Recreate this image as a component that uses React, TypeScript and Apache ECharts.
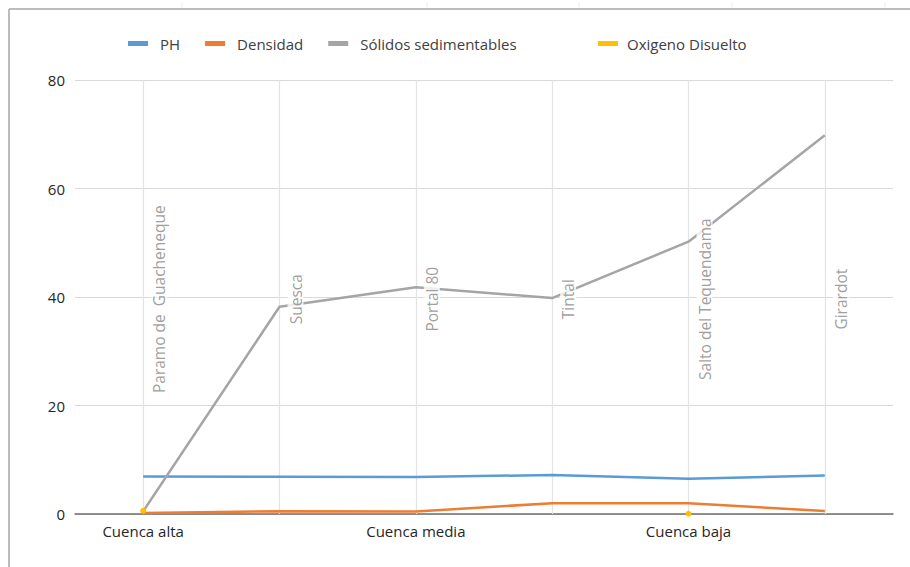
import React, { useEffect, useRef } from "react";
import * as echarts from "echarts";

const stations = ["Paramo de  Guacheneque", "Suesca", "Portal 80", "Tintal", "Salto del Tequendama", "Girardot"];
const basinLabels = ["Cuenca alta", "", "Cuenca media", "", "Cuenca baja", ""];
const ph = [6.9, 6.85, 6.8, 7.2, 6.5, 7.1];
const densidad = [0.2, 0.5, 0.45, 2.0, 2.0, 0.55];
const solidos = [0.5, 38.2, 41.8, 39.8, 50.2, 69.8];
const oxigeno = [0.6, null, null, null, 0.05, null];
const stationLabelLevel = [39.6, 39.6, 39.6, 39.6, 39.6, 39.6];
const yTicks = { min: 0, max: 80, interval: 20 };

const FONT = "Open Sans";

export default function App() {
  const ref = useRef<HTMLDivElement>(null);
  useEffect(() => {
    const chart = echarts.init(ref.current!, undefined, { renderer: "svg" });
    chart.setOption({
      animation: false,
      backgroundColor: "#ffffff",
      textStyle: { fontFamily: FONT },
      graphic: [
        { type: "line", shape: { x1: 9, y1: 9, x2: 910, y2: 9 }, style: { stroke: "#a6a6a6", lineWidth: 1.5 } },
        { type: "line", shape: { x1: 9, y1: 9, x2: 9, y2: 567 }, style: { stroke: "#a6a6a6", lineWidth: 1.5 } },
        ...[182, 427, 579, 732, 885].map((x) => ({
          type: "line",
          shape: { x1: x, y1: 2, x2: x, y2: 8 },
          style: { stroke: "#efefef", lineWidth: 1 },
        })),
      ],
      legend: [
        {
          left: 128,
          top: 36,
          padding: 0,
          icon: "rect",
          itemWidth: 20,
          itemHeight: 5,
          itemGap: 25,
          data: ["PH", "Densidad", "Sólidos sedimentables"],
          textStyle: { fontFamily: FONT, fontSize: 15, color: "#404040", padding: [0, 0, 0, 7] },
        },
        {
          left: 598,
          top: 36,
          padding: 0,
          icon: "rect",
          itemWidth: 20,
          itemHeight: 5,
          data: ["Oxigeno Disuelto"],
          textStyle: { fontFamily: FONT, fontSize: 15, color: "#404040", padding: [0, 0, 0, 4] },
        },
      ],
      grid: { left: 75, right: 17, top: 80, bottom: 53, containLabel: false },
      xAxis: {
        type: "category",
        data: stations,
        boundaryGap: true,
        axisLine: { lineStyle: { color: "#6e6e6e", width: 1.5 } },
        axisTick: { show: false },
        splitLine: { show: false },
        axisLabel: {
          interval: 0,
          margin: 9,
          fontFamily: FONT,
          fontSize: 15,
          color: "#262626",
          formatter: (_v: string, i: number) => basinLabels[i],
        },
      },
      yAxis: {
        type: "value",
        min: yTicks.min,
        max: yTicks.max,
        interval: yTicks.interval,
        axisLine: { show: false },
        axisTick: { show: false },
        axisLabel: { margin: 10, fontFamily: FONT, fontSize: 15, color: "#262626" },
        splitLine: { lineStyle: { color: "#d9d9d9", width: 1.2 } },
      },
      series: [
        {
          name: "PH",
          type: "line",
          data: ph,
          color: "#5b9bd5",
          symbol: "none",
          lineStyle: { width: 2.5 },
          z: 3,
          markLine: {
            silent: true,
            symbol: "none",
            label: { show: false },
            lineStyle: { color: "#e3e3e3", width: 1.2, type: "solid" },
            data: stations.map((s) => ({ xAxis: s })),
            z: 1,
          },
        },
        { name: "Densidad", type: "line", data: densidad, color: "#ed7d31", symbol: "none", lineStyle: { width: 2.5 }, z: 3 },
        { name: "Sólidos sedimentables", type: "line", data: solidos, color: "#a5a5a5", symbol: "none", lineStyle: { width: 2.5 }, z: 3 },
        {
          name: "Oxigeno Disuelto",
          type: "line",
          data: oxigeno,
          color: "#ffc000",
          symbol: "circle",
          symbolSize: 6,
          showAllSymbol: true,
          lineStyle: { width: 2.5 },
          z: 4,
        },
        {
          name: "stations",
          type: "scatter",
          data: stations.map((s, i) => [s, stationLabelLevel[i]]),
          symbolSize: 0,
          silent: true,
          z: 6,
          label: {
            show: true,
            position: "right",
            distance: 8,
            rotate: 90,
            align: "center",
            verticalAlign: "top",
            formatter: (p: any) => p.name || stations[p.dataIndex],
            fontFamily: FONT,
            fontSize: 15.5,
            color: "#868686",
            backgroundColor: "#ffffff",
            padding: [0, 1],
          },
        },
      ],
    });
    return () => chart.dispose();
  }, []);
  return <div ref={ref} style={{ position: "absolute", left: 0, top: 0, width: 910, height: 567 }} />;
}
